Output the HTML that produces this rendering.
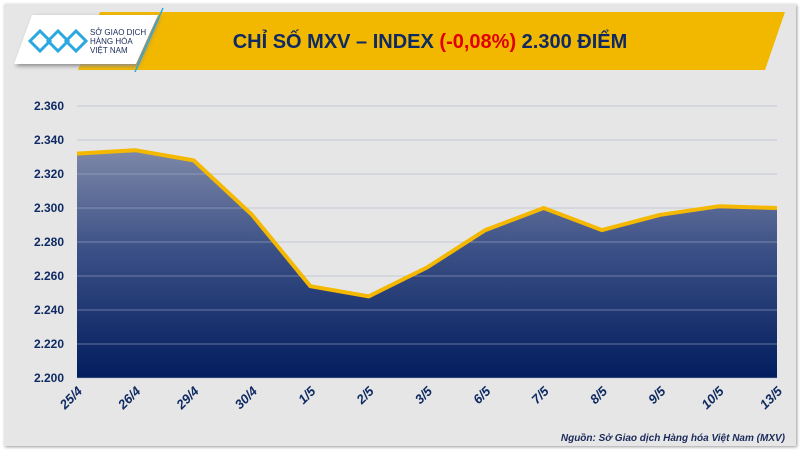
<!DOCTYPE html>
<html><head><meta charset="utf-8"><style>
body{margin:0;width:800px;height:450px;background:#fff;overflow:hidden;font-family:"Liberation Sans",sans-serif}
#card{position:absolute;left:4px;top:4px;width:792px;height:442px;background:#e6e6e6;box-shadow:1px 1px 3px #999}
</style></head><body>
<div id="card"></div>
<svg width="800" height="450" style="position:absolute;left:0;top:0">
<defs>
<linearGradient id="g" x1="0" y1="0" x2="0" y2="1">
<stop offset="0" stop-color="#7d88a8"/><stop offset="0.45" stop-color="#3a4f85"/><stop offset="1" stop-color="#021d5e"/>
</linearGradient>
</defs>
<polygon points="100,12 785,12 765,70 78,70" fill="#f2b800"/>
<polygon points="32,15 158,15 136,64 14,64" fill="#fff" style="filter:drop-shadow(2px 2px 2px #888)"/>
<line x1="163" y1="8" x2="135" y2="72" stroke="#2ba8e0" stroke-width="1.5"/>
<g fill="none" stroke="#2ba8e0" stroke-width="3">
<path d="M30,41 l10,-10 l10,10 l-10,10 z"/><path d="M48,41 l10,-10 l10,10 l-10,10 z"/><path d="M66,41 l10,-10 l10,10 l-10,10 z"/>
</g>
<text x="90" y="35" font-size="8" fill="#1a2a5a">SỞ GIAO DỊCH</text>
<text x="90" y="44" font-size="8" fill="#1a2a5a">HÀNG HÓA</text>
<text x="90" y="53" font-size="8" fill="#1a2a5a">VIỆT NAM</text>
<text x="430" y="48" font-size="20" font-weight="bold" fill="#0f2a63" text-anchor="middle">CHỈ SỐ MXV – INDEX <tspan fill="#e00000">(-0,08%)</tspan> 2.300 ĐIỂM</text>
<g id="plot"></g><g id="grid"></g><g id="line"></g><g id="yax"></g><g id="xax"></g>
<text x="785" y="441" font-size="10" font-style="italic" font-weight="bold" fill="#1a2a5a" text-anchor="end">Nguồn: Sở Giao dịch Hàng hóa Việt Nam (MXV)</text>
</svg>
<script>
const categories=["25/4","26/4","29/4","30/4","1/5","2/5","3/5","6/5","7/5","8/5","9/5","10/5","13/5"];
const values=[2332,2334,2328,2296,2254,2248,2265,2287,2300,2287,2296,2301,2300];
const yTicks=[2200,2220,2240,2260,2280,2300,2320,2340,2360];
const NS="http://www.w3.org/2000/svg";
const X0=77,X1=777,Y0=378,Y1=106;
const x=i=>X0+i*(X1-X0)/(categories.length-1);
const y=v=>Y0-(v-2200)/(2360-2200)*(Y0-Y1);
function mk(t,a,p){const e=document.createElementNS(NS,t);for(const k in a)e.setAttribute(k,a[k]);p.appendChild(e);return e;}
const grid=document.getElementById('grid'),plot=document.getElementById('plot'),lineG=document.getElementById('line'),yax=document.getElementById('yax'),xax=document.getElementById('xax');
let d='M'+x(0)+','+Y0;values.forEach((v,i)=>d+=' L'+x(i)+','+y(v));d+=' L'+x(values.length-1)+','+Y0+' Z';
const a=mk('path',{d:d,fill:'url(#g)'},plot);


yTicks.forEach(v=>{
 const l=mk('line',{x1:X0,x2:X1,y1:y(v),y2:y(v),stroke:'#a6b0c8','stroke-width':1,'stroke-opacity':0.55},grid);
 
 
 const t=mk('text',{x:64,y:y(v)+4,'font-size':12,'font-weight':'bold',fill:'#0f2a63','text-anchor':'end'},yax);
 t.textContent=(v/1000).toFixed(3);
 
 
});
const ln=mk('polyline',{points:values.map((v,i)=>x(i)+','+y(v)).join(' '),fill:'none',stroke:'#f5b800','stroke-width':4,'stroke-linejoin':'round'},lineG);


categories.forEach((c,i)=>{
 const t=mk('text',{x:x(i)+6,y:392,'font-size':13,'font-weight':'bold','font-style':'italic',fill:'#0f2a63','text-anchor':'end',transform:`rotate(-45 ${x(i)+6} 392)`},xax);
 t.textContent=c;
 
 
});
</script>
</body></html>
